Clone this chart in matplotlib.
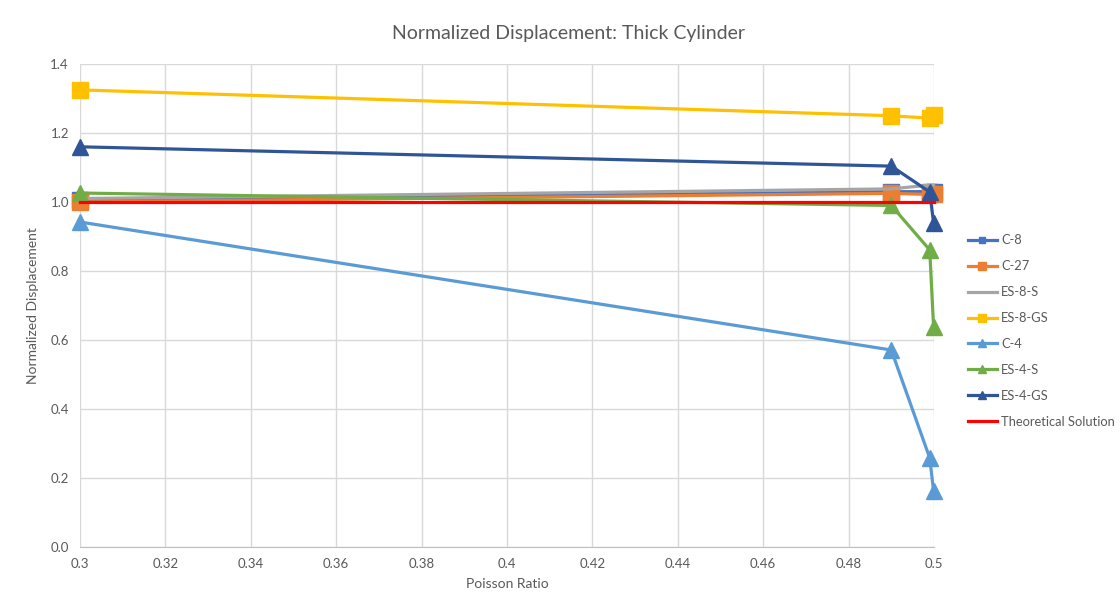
import matplotlib
matplotlib.use("Agg")
import matplotlib.pyplot as plt
import numpy as np

plt.rcParams['font.family'] = ['Lato', 'DejaVu Sans']

poisson = [0.3, 0.49, 0.499, 0.4999]

c8 = [1.005, 1.03, 1.03, 1.03]
c27 = [1.0, 1.025, 1.022, 1.022]
es8s = [1.01, 1.038, 1.049, 1.049]
es8gs = [1.325, 1.25, 1.243, 1.252]
c4 = [0.942, 0.571, 0.258, 0.162]
es4s = [1.026, 0.99, 0.861, 0.638]
es4gs = [1.16, 1.104, 1.029, 0.94]
theory = [1.0, 1.0, 1.0, 1.0]

series = [
    ("C-8", c8, "#4472C4", "s", 11),
    ("C-27", c27, "#ED7D31", "s", 12),
    ("ES-8-S", es8s, "#A5A5A5", None, 0),
    ("ES-8-GS", es8gs, "#FFC000", "s", 12),
    ("C-4", c4, "#5B9BD5", "^", 12),
    ("ES-4-S", es4s, "#70AD47", "^", 12),
    ("ES-4-GS", es4gs, "#2F5597", "^", 12),
    ("Theoretical Solution", theory, "#FF0000", None, 0),
]

fig = plt.figure(figsize=(11.2, 6.13), dpi=100)
ax = fig.add_axes([80 / 1120, 1 - 547 / 613, 854 / 1120, 483 / 613])

for name, vals, color, marker, ms in series:
    ax.plot(poisson, vals, color=color, lw=2.3, marker=marker,
            markersize=ms, label=name, solid_joinstyle='round', clip_on=False)

ax.set_xlim(0.3, 0.5)
ax.set_ylim(0.0, 1.4)
ax.set_xticks(np.arange(0.3, 0.5001, 0.02))
ax.set_xticklabels(["0.3", "0.32", "0.34", "0.36", "0.38", "0.4",
                    "0.42", "0.44", "0.46", "0.48", "0.5"])
ax.set_yticks(np.arange(0.0, 1.4001, 0.2))
ax.set_yticklabels([f"{v:.1f}" for v in np.arange(0.0, 1.4001, 0.2)])
ax.grid(True, color="#D9D9D9", lw=1)
ax.set_axisbelow(True)
for s in ["top", "right", "left"]:
    ax.spines[s].set_visible(False)
ax.spines["bottom"].set_color("#BFBFBF")
ax.tick_params(length=0, labelsize=9.5, colors="#595959", pad=8)

ax.set_xlabel("Poisson Ratio", fontsize=10, color="#595959", labelpad=6)
ax.set_ylabel("Normalized Displacement", fontsize=10, color="#595959", labelpad=8)
fig.text(0.508, 1 - 33 / 613, "Normalized Displacement: Thick Cylinder",
         ha="center", va="center", fontsize=14, color="#595959")

leg = ax.legend(loc="center left", bbox_to_anchor=(965 / 1120, 1 - 331 / 613),
                bbox_transform=fig.transFigure, frameon=False, fontsize=9.3,
                markerscale=0.45, labelspacing=1.08, handlelength=2.3,
                handletextpad=0.3, borderaxespad=0, borderpad=0.2)
for t in leg.get_texts():
    t.set_color("#595959")

fig.savefig("out.png", dpi=100)
